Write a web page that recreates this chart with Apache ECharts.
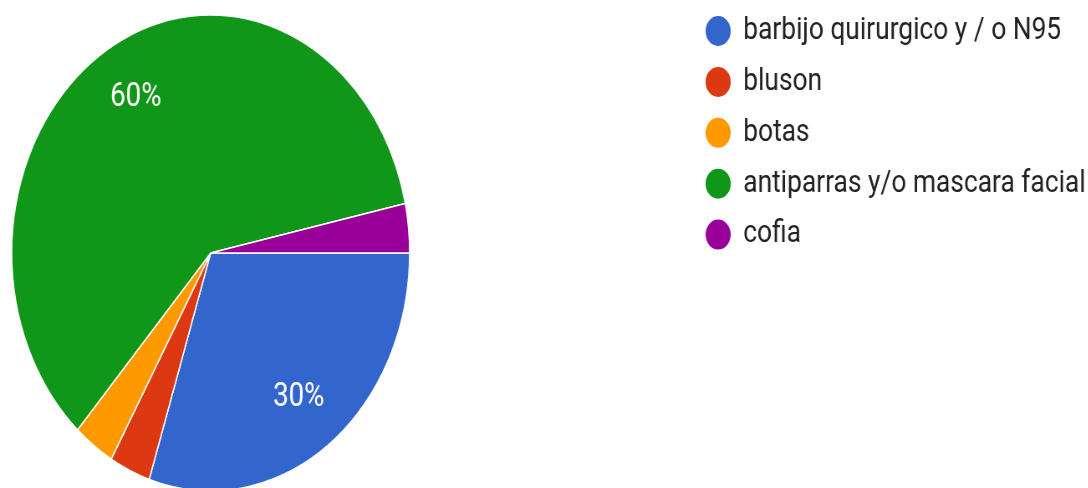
<!DOCTYPE html>
<html>
<head>
<meta charset="utf-8">
<script src="https://cdn.jsdelivr.net/npm/echarts@6/dist/echarts.min.js"></script>
<style>
  html, body { margin: 0; padding: 0; background: #fff; overflow: hidden; width: 1088px; height: 488px; }
  /* The chart is laid out wider and squeezed horizontally, giving the oval pie */
  #chart { width: 1301px; height: 488px; transform: scaleX(0.836); transform-origin: 0 0; }
</style>
</head>
<body>
<div id="chart"></div>
<script>
const categories = [
  'barbijo quirurgico y / o N95',
  'bluson',
  'botas',
  'antiparras y/o mascara facial',
  'cofia'
];
const counts = [9, 1, 1, 18, 1];
const colors = ['#3366CC', '#DC3912', '#FF9900', '#109618', '#990099'];

const FONT = 'Roboto, "Liberation Sans", Arial, sans-serif';
const CENTER = [252, 253];
const R = 238;

const pieData = categories.map((name, i) => ({ name, value: counts[i], itemStyle: { color: colors[i] } }));
const labelData = categories.map((name, i) => ({ name, value: counts[i] }));

const chart = echarts.init(document.getElementById('chart'), null, { renderer: 'canvas' });
chart.setOption({
  animation: false,
  backgroundColor: '#ffffff',
  legend: {
    orient: 'vertical',
    left: 842,
    top: 14,
    padding: 0,
    icon: 'circle',
    itemWidth: 32,
    itemHeight: 32,
    itemGap: 16.9,
    data: categories,
    textStyle: { fontFamily: FONT, fontSize: 31.5, color: '#222222', lineHeight: 32, padding: [0, 0, 0, 9] }
  },
  series: [
    {
      type: 'pie',
      center: CENTER,
      radius: [0, R],
      startAngle: 0,
      clockwise: true,
      avoidLabelOverlap: false,
      itemStyle: { borderColor: '#ffffff', borderWidth: 1.5 },
      label: { show: false },
      labelLine: { show: false },
      emphasis: { disabled: true },
      data: pieData
    },
    {
      // transparent ring that carries the percentage labels further out from the centre
      type: 'pie',
      center: CENTER,
      radius: [R * 0.48, R],
      startAngle: 0,
      clockwise: true,
      silent: true,
      avoidLabelOverlap: false,
      itemStyle: { color: 'rgba(0,0,0,0)', borderWidth: 0 },
      label: {
        show: true,
        position: 'inside',
        fontFamily: FONT,
        fontSize: 33,
        color: '#ffffff',
        formatter: p => p.percent >= 5 ? Math.round(p.percent) + '%' : ''
      },
      labelLine: { show: false },
      emphasis: { disabled: true },
      data: labelData
    }
  ]
});
</script>
</body>
</html>
